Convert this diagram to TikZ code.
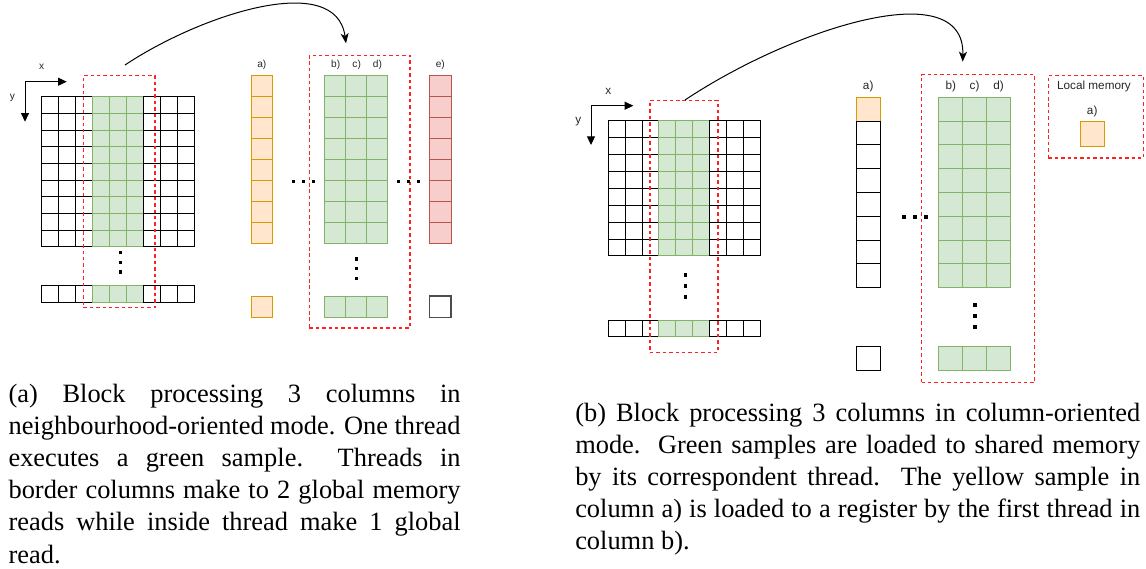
\documentclass[tikz,border=0pt]{standalone}
\usepackage{fontspec}
\setmainfont{Liberation Serif}
\setsansfont{Liberation Sans}
\usetikzlibrary{arrows.meta}

\definecolor{gfill}{HTML}{D5E8D4}
\definecolor{gline}{HTML}{82B366}
\definecolor{ofill}{HTML}{FFE6CC}
\definecolor{oline}{HTML}{D79B00}
\definecolor{rfill}{HTML}{F8CECC}
\definecolor{rline}{HTML}{B85450}
\definecolor{dashred}{HTML}{FF2020}

% grid of cells: x0, y0, cell width, cell height, columns, rows, style
\newcommand{\cellblock}[7]{%
  \foreach \ci in {1,...,#5}{%
    \foreach \cj in {1,...,#6}{%
      \draw[#7] ({#1+(\ci-1)*#3},{#2+(\cj-1)*#4}) rectangle ++(#3,#4);
    }%
  }%
}
% three small square dots: first centre x, y, step x, step y, size
\newcommand{\dotrow}[5]{%
  \foreach \dk in {0,1,2}{%
    \fill ({#1+\dk*#3-#5/2},{#2+\dk*#4-#5/2}) rectangle ++(#5,#5);
  }%
}

\begin{document}
\begin{tikzpicture}[x=0.75pt,y=-0.75pt,
  cellk/.style={draw=black,fill=white,line width=0.75pt},
  cellg/.style={draw=gline,fill=gfill,line width=0.75pt},
  cello/.style={draw=oline,fill=ofill,line width=0.75pt},
  cellr/.style={draw=rline,fill=rfill,line width=0.75pt},
  cellgray/.style={draw=black!70,fill=white,line width=1pt},
  redbox/.style={draw=dashred,line width=0.9pt,dash pattern=on 2.6pt off 2.2pt,inner sep=0pt},
  axis/.style={line width=0.75pt,-{Triangle[length=6.5pt,width=6pt]}},
  jump/.style={line width=0.75pt,-{Stealth[length=7.5pt,width=6pt,inset=2pt]}},
  lblA/.style={font=\sffamily\fontsize{7.6}{9}\selectfont,text=black!85,inner sep=0pt},
  lblB/.style={font=\sffamily\fontsize{8.8}{10}\selectfont,text=black!85,inner sep=0pt},
  capline/.style={font=\fontsize{19.8}{24}\selectfont,anchor=base west,inner sep=0pt}
]
\useasboundingbox (0,0) rectangle (1146,568);

% ---------------- (a) neighbourhood-oriented ----------------
% image block: 9 columns, the middle three are processed
\cellblock{41.7}{96.7}{17.03}{16.67}{3}{9}{cellk}
\cellblock{92.8}{96.7}{17.03}{16.67}{3}{9}{cellg}
\cellblock{143.9}{96.7}{17.03}{16.67}{3}{9}{cellk}
\cellblock{41.7}{285}{17.03}{17.3}{3}{1}{cellk}
\cellblock{92.8}{285}{17.03}{17.3}{3}{1}{cellg}
\cellblock{143.9}{285}{17.03}{17.3}{3}{1}{cellk}
\dotrow{120.7}{252.7}{0}{9.7}{3.3}

\node[redbox,anchor=north west,minimum width=53.7pt,minimum height=174.2pt] (winA) at (82.7,75) {};

% axes
\coordinate (oA) at (25,81.7);
\coordinate (xA) at (66.7,81.7);
\coordinate (yA) at (25,121.7);
\draw[axis] (oA) -- (xA);
\draw[axis] (oA) -- (yA);
\node[lblA] (xlabA) at (41.7,66.7) {x};
\node[lblA] (ylabA) at (12.3,98.3) {y};

% memory columns
\cellblock{251}{75}{21.7}{21.04}{1}{8}{cello}
\cellblock{251}{296}{21.7}{21.3}{1}{1}{cello}
\node[lblA] (la) at (261.8,65) {a)};
\dotrow{293.3}{181.7}{10}{0}{3.3}

\cellblock{324.7}{75}{21}{21.04}{3}{8}{cellg}
\cellblock{324.7}{296}{21}{21.3}{3}{1}{cellg}
\node[lblA] (lb) at (335.7,65) {b)};
\node[lblA] (lc) at (356.7,65) {c)};
\node[lblA] (ld) at (377.5,65) {d)};
\dotrow{356.7}{259}{0}{9.7}{3.3}
\node[redbox,anchor=north west,minimum width=75.45pt,minimum height=204.5pt] (blkA) at (308.7,54.7) {};

\dotrow{398.3}{181.7}{10}{0}{3.3}
\cellblock{429.7}{75}{21.3}{21.04}{1}{8}{cellr}
\draw[cellgray] (429.7,296) rectangle (451,317.3);
\node[lblA] (le) at (440.3,65) {e)};

\coordinate (srcA) at (125,65);
\coordinate (dstA) at (346,43.3);
\draw[jump] (srcA) .. controls (200,15) and (336,-30) .. (dstA);

% ---------------- (b) column-oriented ----------------
\cellblock{608.3}{120.7}{16.86}{16.9}{3}{8}{cellk}
\cellblock{658.9}{120.7}{16.86}{16.9}{3}{8}{cellg}
\cellblock{709.5}{120.7}{16.86}{16.9}{3}{8}{cellk}
\cellblock{608.3}{320}{16.86}{16.7}{3}{1}{cellk}
\cellblock{658.9}{320}{16.86}{16.7}{3}{1}{cellg}
\cellblock{709.5}{320}{16.86}{16.7}{3}{1}{cellk}
\dotrow{685.3}{275}{0}{11}{3.6}
\node[redbox,anchor=north west,minimum width=51pt,minimum height=189pt] (winB) at (649.3,100) {};

\coordinate (oB) at (591,105.7);
\coordinate (xB) at (633.3,105.7);
\coordinate (yB) at (591,145);
\draw[axis] (oB) -- (xB);
\draw[axis] (oB) -- (yB);
\node[lblB] (xlabB) at (608.3,91.7) {x};
\node[lblB] (ylabB) at (578.3,121.7) {y};

\draw[cello] (856,97.3) rectangle ++(24,23.8);
\cellblock{856}{121.1}{24}{23.8}{1}{7}{cellk}
\draw[cellk] (856,346.7) rectangle ++(24,24);
\node[lblB] (lab) at (868.2,86.7) {a)};
\dotrow{904}{216.7}{11}{0}{3.8}

\cellblock{938.7}{97.3}{23.87}{23.8}{3}{8}{cellg}
\cellblock{938.7}{346.7}{23.87}{24}{3}{1}{cellg}
\node[lblB] (lbb) at (950.9,86.7) {b)};
\node[lblB] (lcb) at (974.6,86.7) {c)};
\node[lblB] (ldb) at (998.6,86.7) {d)};
\dotrow{975}{305}{0}{10.8}{3.8}
\node[redbox,anchor=north west,minimum width=84.75pt,minimum height=231.2pt] (blkB) at (921,74) {};

\node[redbox,anchor=north west,minimum width=71.25pt,minimum height=62pt] (locB) at (1047.7,74.7) {};
\node[lblB] (loctxt) at (1094,86) {Local memory};
\node[lblB] (locla) at (1092.2,111.7) {a)};
\draw[cello] (1080,121.7) rectangle (1104.3,146);

\coordinate (srcB) at (685,100);
\coordinate (dstB) at (962.7,61.7);
\draw[jump] (srcB) .. controls (790,30) and (965,-28) .. (dstB);

% ---------------- captions ----------------
\node[capline] (ca1) at (8.3,402) {\makebox[339pt][s]{(a) Block processing 3 columns in}};
\node[capline] (ca2) at (8.3,434.2) {\makebox[339pt][s]{neighbourhood-oriented mode. One thread}};
\node[capline] (ca3) at (8.3,466.4) {\makebox[339pt][s]{executes a green sample.\ \ Threads in}};
\node[capline] (ca4) at (8.3,498.6) {\makebox[339pt][s]{border columns make to 2 global memory}};
\node[capline] (ca5) at (8.3,530.8) {\makebox[339pt][s]{reads while inside thread make 1 global}};
\node[capline] (ca6) at (8.3,563) {read.};

\node[capline] (cb1) at (575,421.9) {\makebox[423.75pt][s]{(b) Block processing 3 columns in column-oriented}};
\node[capline] (cb2) at (575,453.8) {\makebox[423.75pt][s]{mode.\ \ Green samples are loaded to shared memory}};
\node[capline] (cb3) at (575,485.7) {\makebox[423.75pt][s]{by its correspondent thread.\ \ The yellow sample in}};
\node[capline] (cb4) at (575,517.6) {\makebox[423.75pt][s]{column a) is loaded to a register by the first thread in}};
\node[capline] (cb5) at (575,549.5) {column b).};
\end{tikzpicture}
\end{document}
